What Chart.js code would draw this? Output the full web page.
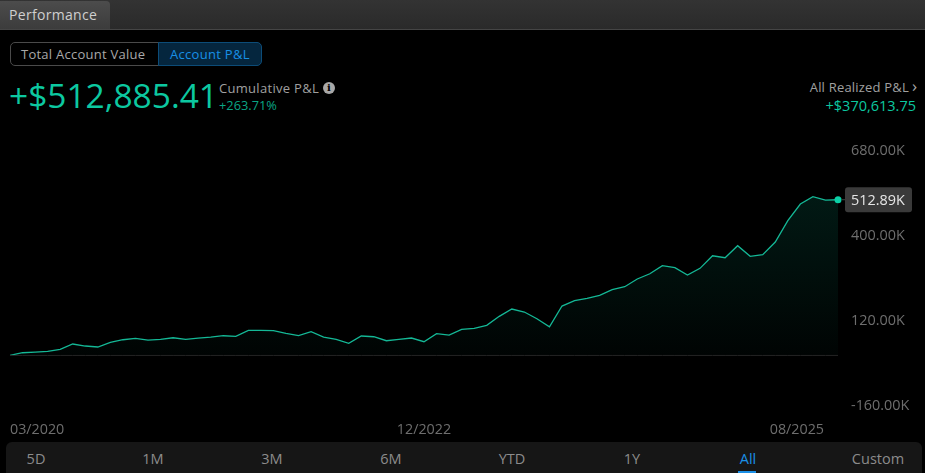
<!DOCTYPE html>
<html>
<head>
<meta charset="utf-8">
<script src="https://cdn.jsdelivr.net/npm/chart.js@4/dist/chart.umd.min.js"></script>
<style>
  html, body { margin: 0; padding: 0; background: #000; width: 925px; height: 473px; overflow: hidden; }
  body { position: relative; font-family: "Open Sans", sans-serif; }
  #perf { position: absolute; left: 0; top: 0; }
  .abs { position: absolute; white-space: nowrap; }
  #topbar { left: 0; top: 0; width: 925px; height: 29px; background: linear-gradient(#333, #2a2a2a); border-bottom: 1px solid #454545; }
  #tab { left: 0; top: 1px; width: 110px; height: 28px; background: linear-gradient(#4c4c4c, #3c3c3c); border-radius: 0 4px 0 0; color: #cfcfcf; font-size: 14px; line-height: 28px; text-indent: 9px; letter-spacing: .3px; }
  #toggle { left: 10px; top: 42px; width: 249px; height: 22px; border: 1px solid #4a4a4a; border-radius: 5px; }
  #tv { left: 21px; top: 45px; color: #a8a8a8; font-size: 13px; line-height: 19px; letter-spacing: .25px; }
  #pl { left: 158px; top: 42px; width: 102px; height: 22px; background: #05263e; border: 1px solid #0c4c78; border-radius: 0 5px 5px 0; color: #1890e6; font-size: 13px; line-height: 22px; text-indent: 11px; letter-spacing: .3px; }
  #big { left: 9px; top: 72px; color: #0cc8a0; font-size: 33.5px; line-height: 46px; }
  #cum { left: 219px; top: 79px; color: #a0a0a0; font-size: 13px; line-height: 18px; letter-spacing: .3px; }
  #info { left: 323px; top: 82px; width: 12px; height: 12px; border-radius: 50%; background: #a8a8a8; color: #000; font: bold 10px/12px "DejaVu Serif", serif; text-align: center; }
  #pct { left: 219px; top: 97px; color: #0aa585; font-size: 12.8px; line-height: 17px; }
  #real { right: 16px; top: 78px; color: #a0a0a0; font-size: 13px; line-height: 18px; letter-spacing: .2px; }
  #chev { left: 912px; top: 76px; color: #a8a8a8; font-size: 17px; line-height: 20px; }
  #realv { right: 9px; top: 96px; color: #0cc8a0; font-size: 14.5px; line-height: 20px; }
  #ranges { left: 6px; top: 442px; width: 916px; height: 31px; background: #161616; border-radius: 6px 6px 0 0; }
  .rng { top: 449px; transform: translateX(-50%); color: #8c8c8c; font-size: 14.5px; line-height: 19px; }
  #rall { color: #1a8fe6; }
  #rbar { left: 738px; top: 471px; width: 18px; height: 2px; background: #1a8fe6; }
</style>
</head>
<body>
<div class="abs" id="topbar"></div>
<div class="abs" id="tab">Performance</div>
<div class="abs" id="toggle"></div>
<div class="abs" id="tv">Total Account Value</div>
<div class="abs" id="pl">Account P&amp;L</div>
<div class="abs" id="big">+$512,885.41</div>
<div class="abs" id="cum">Cumulative P&amp;L</div>
<div class="abs" id="info">i</div>
<div class="abs" id="pct">+263.71%</div>
<div class="abs" id="real">All Realized P&amp;L</div>
<div class="abs" id="chev">&#8250;</div>
<div class="abs" id="realv">+$370,613.75</div>
<canvas id="perf" width="925" height="473"></canvas>
<div class="abs" id="ranges"></div>
<div class="abs rng" style="left:36px">5D</div>
<div class="abs rng" style="left:153px">1M</div>
<div class="abs rng" style="left:272px">3M</div>
<div class="abs rng" style="left:391px">6M</div>
<div class="abs rng" style="left:512px">YTD</div>
<div class="abs rng" style="left:632px">1Y</div>
<div class="abs rng" id="rall" style="left:748px">All</div>
<div class="abs rng" style="left:878px">Custom</div>
<div class="abs" id="rbar"></div>
<script>
// cumulative P&L in thousands
var pnl = [
  0, 8.9, 11.2, 13.5, 20.1, 37.6, 31, 27.7, 43.2, 51.7,
  56.3, 50.7, 53, 58.3, 53, 57.3, 60.6, 64.9, 62.9, 82.7,
  82.7, 81.4, 72.8, 65.5, 78.1, 60.6, 53, 39.9, 63.9, 61.6,
  48.4, 53, 57.3, 45.1, 71.5, 67.2, 86, 89.3, 99.2, 128.8,
  152.8, 143, 120.9, 94.5, 162.7, 180.2, 188.1, 198, 216.4, 226.3,
  251.7, 269.1, 295.5, 288.9, 264.8, 286.9, 328.4, 321.8, 361.3, 326.4,
  331.7, 373.5, 443.7, 498.7, 522.8, 511.9, 512.89
];
var zeroLine = pnl.map(function() { return 0; });
var categories = pnl.map(function(v, i) { return i; });
var xTickIndex = [0, 33, 66];
var xTickLabels = ['03/2020', '12/2022', '08/2025'];
var yMin = -160, yMax = 680, yStep = 280;

var lineColor = '#14b896';
var dotColor = '#0bd0a6';

function fmtK(v) { return v.toFixed(2) + 'K'; }

// first and last date labels sit inside the plot instead of centred on their tick
var labelTweaks = {
  id: 'labelTweaks',
  beforeDraw: function(chart) {
    var items = chart.scales.x.getLabelItems();
    items[0].options.textAlign = 'left';
    items[2].options.textAlign = 'right';
    items[2].options.translation[0] -= 14;
    chart.scales.y.getLabelItems().forEach(function(it) {
      it.options.translation[1] += 1.5;
    });
  }
};

// grey badge with the latest value
var lastValueTag = {
  id: 'lastValueTag',
  afterDraw: function(chart) {
    var pt = chart.getDatasetMeta(1).data[pnl.length - 1];
    var ctx = chart.ctx;
    ctx.save();
    ctx.strokeStyle = '#444';
    ctx.beginPath();
    ctx.moveTo(pt.x + 4, pt.y);
    ctx.lineTo(845, pt.y);
    ctx.stroke();
    ctx.fillStyle = '#3a3a3a';
    ctx.beginPath();
    ctx.roundRect(845, pt.y - 12.5, 67, 25, 3);
    ctx.fill();
    ctx.fillStyle = '#e6e6e6';
    ctx.font = '14.4px "Open Sans"';
    ctx.textAlign = 'left';
    ctx.textBaseline = 'middle';
    ctx.fillText(fmtK(pnl[pnl.length - 1]), 851, pt.y + 1);
    ctx.restore();
  }
};

new Chart(document.getElementById('perf'), {
  type: 'line',
  data: {
    labels: categories,
    datasets: [{
      data: zeroLine,
      borderColor: '#242424',
      borderWidth: 1,
      pointRadius: 0
    }, {
      data: pnl,
      borderColor: lineColor,
      borderWidth: 1.3,
      tension: 0,
      clip: false,
      fill: { target: { value: 0 } },
      backgroundColor: function(c) {
        var s = c.chart.scales.y;
        if (!c.chart.chartArea) return 'transparent';
        var g = c.chart.ctx.createLinearGradient(0, s.getPixelForValue(pnl[64]), 0, s.getPixelForValue(0));
        g.addColorStop(0, 'rgba(12,200,160,0.125)');
        g.addColorStop(1, 'rgba(12,200,160,0.02)');
        return g;
      },
      pointRadius: function(c) { return c.dataIndex === pnl.length - 1 ? 3.5 : 0; },
      pointBackgroundColor: dotColor,
      pointBorderWidth: 0
    }]
  },
  plugins: [labelTweaks, lastValueTag],
  options: {
    responsive: false,
    animation: false,
    layout: { autoPadding: false, padding: { left: 10, top: 149, right: 0, bottom: 0 } },
    plugins: { legend: { display: false }, tooltip: { enabled: false } },
    scales: {
      x: {
        type: 'category',
        afterBuildTicks: function(scale) {
          scale.ticks = xTickIndex.map(function(v) { return { value: v }; });
        },
        afterFit: function(scale) {
          scale.height = 69;
          // the overhanging first label must not push the plot to the right
          scale.paddingLeft = 0;
          scale.paddingRight = 0;
          scale._margins.left = 0;
          scale._margins.right = 0;
        },
        grid: { display: false, drawTicks: false },
        border: { display: false },
        ticks: {
          autoSkip: false,
          maxRotation: 0,
          padding: 17,
          color: '#6e6e6e',
          font: { family: 'Open Sans', size: 14.3 },
          callback: function(v) { return xTickLabels[xTickIndex.indexOf(v)]; }
        }
      },
      y: {
        position: 'right',
        min: yMin,
        max: yMax,
        afterFit: function(scale) { scale.width = 87; },
        grid: { display: false, drawTicks: false },
        border: { display: false },
        ticks: {
          stepSize: yStep,
          padding: 13,
          color: '#6e6e6e',
          font: { family: 'Open Sans', size: 14.4 },
          callback: fmtK
        }
      }
    }
  }
});
</script>
</body>
</html>
